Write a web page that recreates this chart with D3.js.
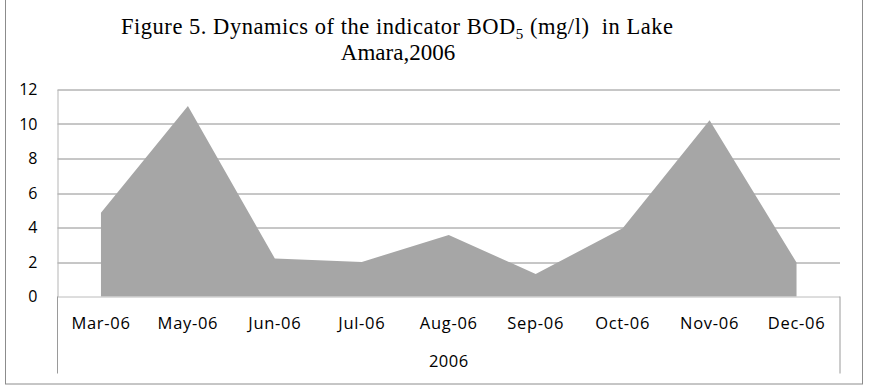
<!DOCTYPE html>
<html>
<head>
<meta charset="utf-8">
<script src="https://cdn.jsdelivr.net/npm/d3@7"></script>
<style>
  body { margin: 0; background: #fff; }
  .tick text { font-family: "Open Sans", sans-serif; }
</style>
</head>
<body>
<svg id="chart" width="877" height="388"></svg>
<script>
// Chart data
var months = ["Mar-06", "May-06", "Jun-06", "Jul-06", "Aug-06", "Sep-06", "Oct-06", "Nov-06", "Dec-06"];
var bod5 = [4.85, 11.05, 2.2, 2.0, 3.57, 1.3, 3.96, 10.22, 1.97];
var yTicks = [0, 2, 4, 6, 8, 10, 12];
var groupLabel = "2006";

var svgWidth = 877;
var svgHeight = 388;

// Plot area
var margin = { top: 89.5, right: 37, bottom: 91.5, left: 57.5 };
var chartWidth = svgWidth - margin.left - margin.right;
var chartHeight = svgHeight - margin.top - margin.bottom;

var svg = d3.select("#chart");

// outer border of the chart
svg.append("rect")
  .attr("x", 5.5)
  .attr("y", -2)
  .attr("width", 857)
  .attr("height", 386)
  .attr("fill", "none")
  .attr("stroke", "#8c8c8c")
  .attr("stroke-width", 1);

// Title (two lines, BOD with subscript 5)
var title = svg.append("text")
  .attr("x", 397)
  .attr("y", 33.5)
  .attr("text-anchor", "middle")
  .attr("textLength", 552)
  .attr("lengthAdjust", "spacing")
  .style("font-family", "'Liberation Serif', 'Times New Roman', serif")
  .style("font-size", "22.5px")
  .attr("fill", "#000");
title.append("tspan").text("Figure 5. Dynamics of the indicator BOD");
title.append("tspan").attr("dy", 5).style("font-size", "15px").text("5");
title.append("tspan").attr("dy", -5).text(" (mg/l)\u00a0 in Lake");

svg.append("text")
  .attr("x", 398)
  .attr("y", 60)
  .attr("text-anchor", "middle")
  .style("font-family", "'Liberation Serif', 'Times New Roman', serif")
  .style("font-size", "23px")
  .text("Amara,2006");

var chartGroup = svg.append("g")
  .attr("transform", `translate(${margin.left}, ${margin.top})`);

var xScale = d3.scaleBand()
  .domain(months)
  .range([0, chartWidth])
  .padding(0);

var yScale = d3.scaleLinear()
  .domain([0, 12])
  .range([chartHeight, 0]);

// gridlines
chartGroup.append("g")
  .selectAll("line")
  .data(yTicks.filter(d => d > 0))
  .join("line")
  .attr("x1", 0)
  .attr("x2", chartWidth)
  .attr("y1", d => Math.round(yScale(d)) + 0.5)
  .attr("y2", d => Math.round(yScale(d)) + 0.5)
  .attr("stroke", "#8e8e8e")
  .attr("stroke-width", 1);

// area
var drawArea = d3.area()
  .x((d, i) => xScale(months[i]) + xScale.bandwidth() / 2)
  .y0(yScale(0))
  .y1(d => yScale(d));

chartGroup.append("path")
  .attr("d", drawArea(bod5))
  .attr("fill", "#a6a6a6");

// value axis
var leftAxis = d3.axisLeft(yScale)
  .tickValues(yTicks)
  .tickSize(0)
  .tickPadding(20);

var yAxisG = chartGroup.append("g").call(leftAxis);
yAxisG.select(".domain").attr("stroke", "#b5b5b5");
yAxisG.selectAll("text")
  .style("font-size", "16px")
  .attr("fill", "#000");

// category axis with its label box
var bottomAxis = d3.axisBottom(xScale).tickSize(0).tickPadding(21);
var xAxisG = chartGroup.append("g")
  .attr("transform", `translate(0, ${chartHeight})`)
  .call(bottomAxis);
xAxisG.select(".domain").remove();
xAxisG.selectAll("text")
  .style("font-size", "16.5px")
  .style("letter-spacing", "0.7px")
  .attr("fill", "#000");

xAxisG.append("line")
  .attr("x1", 0).attr("x2", chartWidth)
  .attr("y1", 0.5).attr("y2", 0.5)
  .attr("stroke", "#bcbcbc");
xAxisG.selectAll(".box-side")
  .data([0, chartWidth])
  .join("line")
  .attr("class", "box-side")
  .attr("x1", d => d).attr("x2", d => d)
  .attr("y1", 0).attr("y2", 77)
  .attr("stroke", "#9a9a9a");

xAxisG.append("text")
  .attr("x", chartWidth / 2)
  .attr("y", 70)
  .attr("text-anchor", "middle")
  .style("font-family", "'Open Sans', sans-serif")
  .style("font-size", "16.5px")
  .style("letter-spacing", "0.5px")
  .attr("fill", "#000")
  .text(groupLabel);
</script>
</body>
</html>
